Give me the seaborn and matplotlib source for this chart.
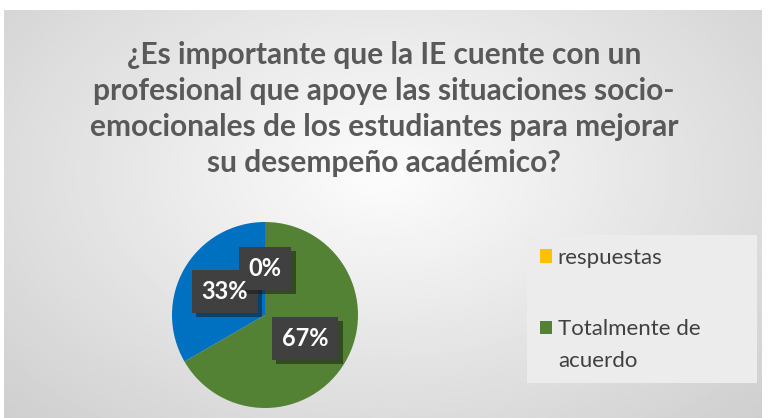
import numpy as np
import matplotlib.pyplot as plt
import matplotlib.patheffects as pe
from matplotlib.patches import Rectangle, Patch
import seaborn as sns

# data
categorias = ["respuestas", "Totalmente de acuerdo", "De acuerdo"]
valores = [0, 2, 1]
colores = ["#FFC000", "#548235", "#0070C0"]
titulo = ("¿Es importante que la IE cuente con un\n"
          "profesional que apoye las situaciones socio-\n"
          "emocionales de los estudiantes para mejorar\n"
          "su desempeño académico?")

sns.set_theme(style="white")
plt.rcParams['font.family'] = ['Lato', 'DejaVu Sans']

W, H = 768, 418
fig = plt.figure(figsize=(W / 100, H / 100), dpi=100)
fig.patch.set_facecolor("white")

# gradient background
bg = fig.add_axes([4 / W, 0, 758 / W, 408 / H])
yy, xx = np.mgrid[0:1:200j, 0:1:300j]
d = np.sqrt(((xx - 0.5) / 0.75) ** 2 + ((yy - 0.4) / 0.9) ** 2)
bg.imshow(0.99 - 0.19 * d, cmap="gray", vmin=0, vmax=1, aspect="auto",
          extent=[0, 1, 0, 1], origin="upper")
bg.axis("off")

fig.text(0.5, 1 - 109 / H, titulo, ha="center", va="center", fontsize=21.5,
         fontweight="bold", color="#595959", linespacing=1.36)

# pie
cx, cy, r = 265, 315, 93
ax = fig.add_axes([(cx - r) / W, (H - cy - r) / H, 2 * r / W, 2 * r / H])
wedges, _, autotexts = ax.pie(valores, colors=colores, startangle=90,
                              counterclock=False, radius=1,
                              autopct=lambda p: f"{p:.0f}%", pctdistance=0.5,
                              wedgeprops=dict(linewidth=0))
ax.set_xlim(-1, 1)
ax.set_ylim(-1, 1)
ax.set_aspect("equal")

# boxes first (0% box over 33% box), then all label texts on top
for z, t in zip([5, 3, 4], autotexts):
    x, y = t.get_position()
    caja = ax.text(x, y, t.get_text(), ha="center", va="center",
                   fontsize=17, fontweight="bold", color="none", zorder=z,
                   bbox=dict(boxstyle="square,pad=0.42", facecolor="#404040",
                             edgecolor="none"))
    caja.get_bbox_patch().set_path_effects(
        [pe.SimplePatchShadow(offset=(3, -3), alpha=0.5), pe.Normal()])
    t.set_color("white")
    t.set_fontsize(17)
    t.set_fontweight("bold")
    t.set_zorder(10)

# legend box
fig.patches.append(Rectangle((527 / W, (H - 383) / H), 230 / W, 148 / H,
                             transform=fig.transFigure, facecolor="#ececec",
                             edgecolor="none", zorder=0.5))
handles = [Patch(facecolor=colores[i], edgecolor="none") for i in range(2)]
etiquetas = ["respuestas", "Totalmente de"]
leg = fig.legend(handles, etiquetas, loc="upper left",
                 bbox_to_anchor=(540 / W, 1 - 248 / H), frameon=False,
                 borderpad=0, borderaxespad=0,
                 fontsize=16, labelcolor="#404040", handlelength=0.55,
                 handleheight=0.55, handletextpad=0.25, labelspacing=2.3)

# second line of the wrapped label
fig.canvas.draw()
ext = leg.get_texts()[1].get_window_extent()
fig.text(ext.x0 / W, (ext.y0 - 32) / H, "acuerdo", fontsize=16,
         color="#404040", ha="left", va="bottom")

fig.savefig("out.png", dpi=100)
